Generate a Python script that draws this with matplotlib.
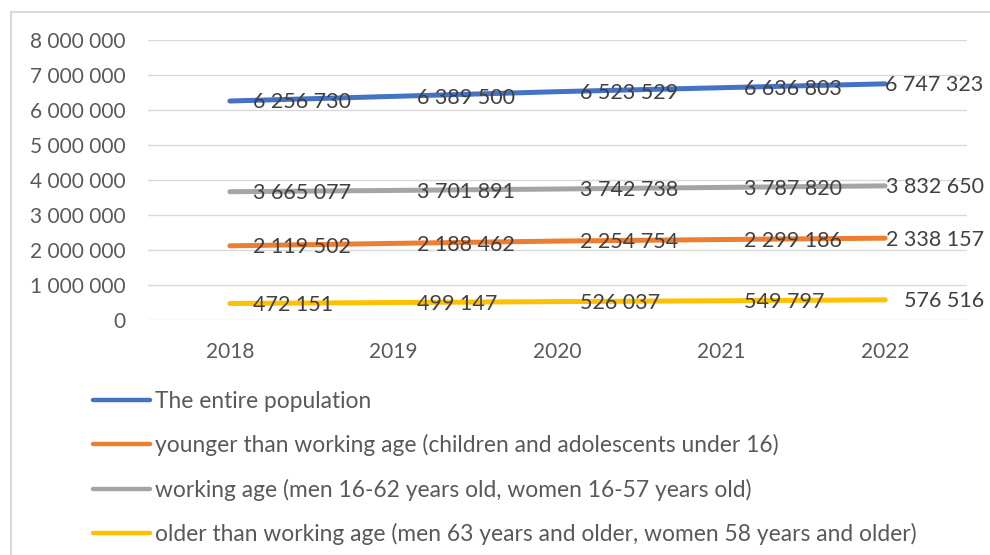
import matplotlib
matplotlib.use("Agg")
import matplotlib.pyplot as plt
from matplotlib.lines import Line2D

years = ["2018", "2019", "2020", "2021", "2022"]
entire = [6256730, 6389500, 6523529, 6636803, 6747323]
younger = [2119502, 2188462, 2254754, 2299186, 2338157]
working = [3665077, 3701891, 3742738, 3787820, 3832650]
older = [472151, 499147, 526037, 549797, 576516]

series_names = [
    "The entire population",
    "younger than working age (children and adolescents under 16)",
    "working age (men 16-62 years old, women 16-57 years old)",
    "older than working age (men 63 years and older, women 58 years and older)",
]
series_vals = [entire, younger, working, older]
colors = ["#4472C4", "#ED7D31", "#A5A5A5", "#FFC000"]

yticks = list(range(0, 8000001, 1000000))

plt.rcParams['font.family'] = ['Lato', 'DejaVu Sans']

def fmt(v):
    return f"{v:,}".replace(",", " ")

fig = plt.figure(figsize=(9.9, 5.55), dpi=100)
W, H = 990, 555
ax = fig.add_axes([148 / W, 1 - 320 / H, (967 - 148) / W, (320 - 40) / H])

x = list(range(len(years)))
handles = []
for name, vals, c in zip(series_names, series_vals, colors):
    ln, = ax.plot(x, vals, color=c, lw=3.6, solid_capstyle='round', label=name, zorder=3)
    handles.append(ln)

for vals in series_vals:
    for i, v in enumerate(vals):
        if i < len(vals) - 1:
            ax.annotate(fmt(v), (i, v), xytext=(16.5, -1), textcoords='offset points',
                        ha='left', va='center', fontsize=15.5, color='#404040', zorder=4)
        else:
            ax.annotate(fmt(v), (i, v), xytext=(71, -1), textcoords='offset points',
                        ha='right', va='center', fontsize=15.5, color='#404040', zorder=4,
                        annotation_clip=False)

ax.set_xlim(-0.5, len(years) - 0.5)
ax.set_ylim(0, 8000000)
ax.set_yticks(yticks)
ax.set_yticklabels([fmt(t) for t in yticks])
ax.set_xticks(x)
ax.set_xticklabels(years)
ax.tick_params(axis='both', length=0, colors='#595959', labelsize=15)
ax.tick_params(axis='y', pad=16)
ax.tick_params(axis='x', pad=16)
for s in ax.spines.values():
    s.set_visible(False)
ax.grid(axis='y', color='#D9D9D9', lw=1)
ax.set_axisbelow(True)

leg = fig.legend(handles=handles, loc='upper left', bbox_to_anchor=(93 / W, 1 - 391 / H),
                 frameon=False, fontsize=16.4, handlelength=2.5, handletextpad=0.22,
                 labelspacing=0.98, borderaxespad=0, borderpad=0)
for t in leg.get_texts():
    t.set_color('#595959')
for l in leg.get_lines():
    l.set_linewidth(3.2)

fig.add_artist(Line2D([11 / W, 1], [1 - 12 / H, 1 - 12 / H], transform=fig.transFigure,
                      color='#D9D9D9', lw=1.5))
fig.add_artist(Line2D([11 / W, 11 / W], [0, 1 - 12 / H], transform=fig.transFigure,
                      color='#D9D9D9', lw=1.5))

fig.savefig("out.png", dpi=100)
